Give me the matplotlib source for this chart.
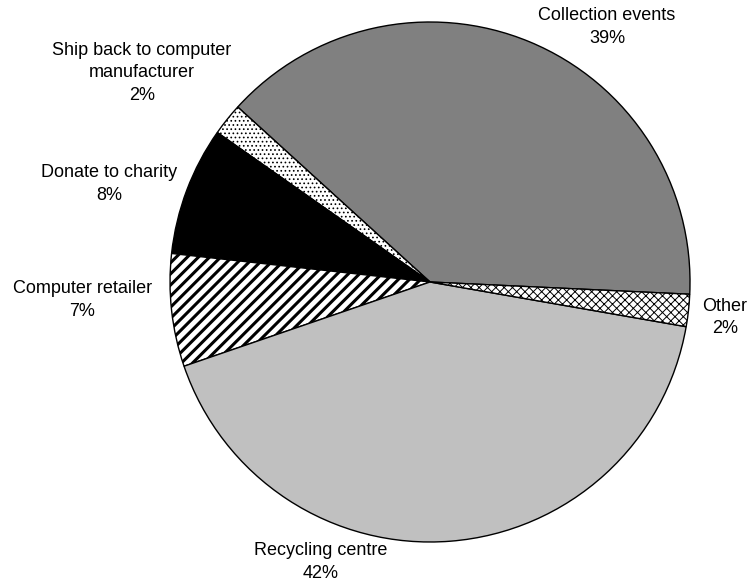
import matplotlib
matplotlib.use('Agg')
import matplotlib.pyplot as plt

# Disposal methods share (%)
labels = ['Collection events', 'Ship back to computer\nmanufacturer', 'Donate to charity',
          'Computer retailer', 'Recycling centre', 'Other']
shares = [39, 2, 8, 7, 42, 2]
colors = ['#808080', 'white', 'black', 'white', '#c0c0c0', 'white']
hatches = [None, '....', None, '///', None, 'xxxx']

plt.rcParams['font.family'] = ['Liberation Sans', 'DejaVu Sans']
plt.rcParams['hatch.linewidth'] = 0.7
plt.rcParams['hatch.color'] = '#333333'

fig = plt.figure(figsize=(7.51, 5.85), dpi=100)
ax = fig.add_axes([0.2264, 0.0735, 0.6924, 0.8889])

wedges, _ = ax.pie(shares, colors=colors, startangle=-2.7, counterclock=True,
                   radius=1.0, wedgeprops=dict(edgecolor='black', linewidth=1.0))
for w, h in zip(wedges, hatches):
    if h:
        w.set_hatch(h)
        if h == '///' and hasattr(w, 'set_hatch_linewidth'):
            w.set_hatch_linewidth(2.2)

# label placement (data coords, radius = 1), same order as labels
label_pos = [(0.681, 0.981), (-1.108, 0.804), (-1.235, 0.377),
             (-1.338, -0.069), (-0.419, -1.077), (1.135, -0.138)]
for lab, v, (x, y) in zip(labels, shares, label_pos):
    ax.text(x, y, f'{lab}\n{v}%', ha='center', va='center', fontsize=13,
            linespacing=1.4, clip_on=False)

ax.set_xlim(-1, 1)
ax.set_ylim(-1, 1)
ax.set_aspect('equal')
ax.axis('off')
fig.savefig('out.png', dpi=100)
